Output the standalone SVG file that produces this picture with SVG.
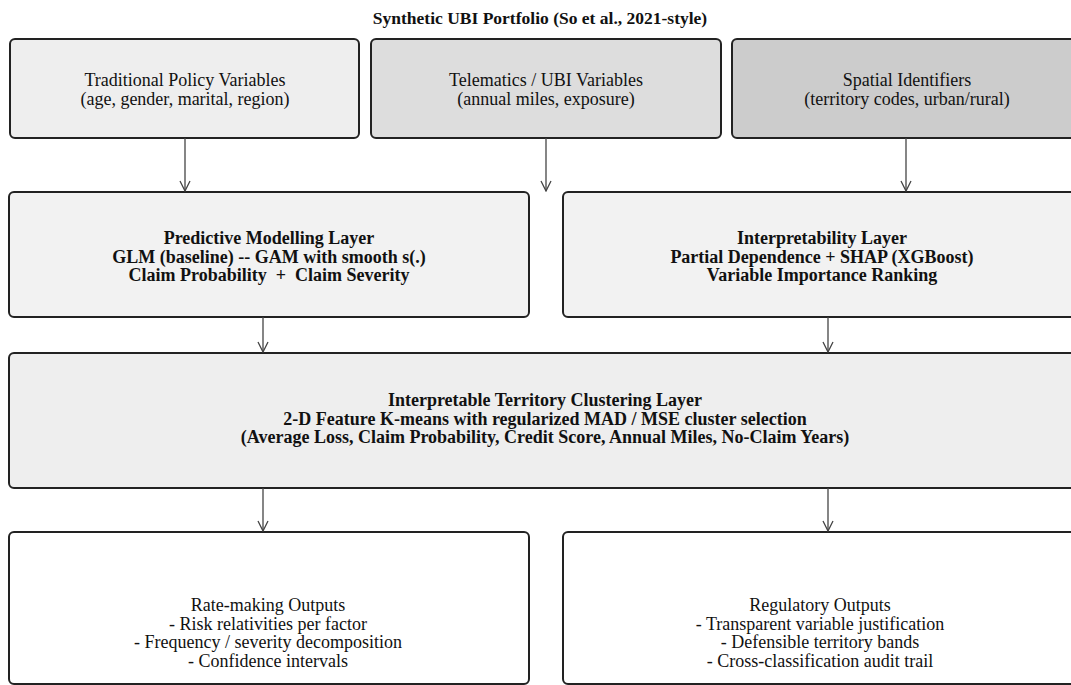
<svg xmlns="http://www.w3.org/2000/svg" width="1071" height="685" viewBox="0 0 1071 685">
<style>
.box{stroke:#222;stroke-width:2}
.t{font-family:"Liberation Serif","Times New Roman",serif;font-size:18px;fill:#111;text-anchor:middle}
.b{font-weight:bold}
.c{stroke:#444;stroke-width:1.3;fill:none}
</style>
<defs>
<marker id="ah" viewBox="0 0 12 12" refX="11" refY="6" markerWidth="12" markerHeight="12" markerUnits="userSpaceOnUse" orient="auto">
<path d="M1,1 L11,6 L1,11" fill="none" stroke="#444" stroke-width="1.3"/>
</marker>
</defs>
<rect width="1071" height="685" fill="#fff"/>
<text class="t b" x="540" y="24" style="font-size:17.5px">Synthetic UBI Portfolio (So et al., 2021-style)</text>

<g id="traditional">
<rect class="box" x="10" y="39" width="349" height="99" rx="5" fill="#eeeeee"/>
<text class="t" x="185" y="86">Traditional Policy Variables</text>
<text class="t" x="185" y="104.5">(age, gender, marital, region)</text>
</g>
<g id="telematics">
<rect class="box" x="371" y="39" width="350" height="99" rx="5" fill="#dddddd"/>
<text class="t" x="546" y="86">Telematics / UBI Variables</text>
<text class="t" x="546" y="104.5">(annual miles, exposure)</text>
</g>
<g id="spatial">
<rect class="box" x="732" y="39" width="350" height="99" rx="5" fill="#cccccc"/>
<text class="t" x="907" y="86">Spatial Identifiers</text>
<text class="t" x="907" y="104.5">(territory codes, urban/rural)</text>
</g>

<g id="predictive">
<rect class="box" x="9" y="192" width="520" height="125" rx="5" fill="#f2f2f2"/>
<text class="t b" x="269" y="244">Predictive Modelling Layer</text>
<text class="t b" x="269" y="262.5">GLM (baseline) -- GAM with smooth s(.)</text>
<text class="t b" x="269" y="281" xml:space="preserve">Claim Probability  +  Claim Severity</text>
</g>
<g id="interpretability">
<rect class="box" x="563" y="192" width="518" height="125" rx="5" fill="#f2f2f2"/>
<text class="t b" x="822" y="244">Interpretability Layer</text>
<text class="t b" x="822" y="262.5">Partial Dependence + SHAP (XGBoost)</text>
<text class="t b" x="822" y="281">Variable Importance Ranking</text>
</g>

<g id="clustering">
<rect class="box" x="9" y="353" width="1072" height="135" rx="5" fill="#eeeeee"/>
<text class="t b" x="545" y="406">Interpretable Territory Clustering Layer</text>
<text class="t b" x="545" y="424.5">2-D Feature K-means with regularized MAD / MSE cluster selection</text>
<text class="t b" x="545" y="443">(Average Loss, Claim Probability, Credit Score, Annual Miles, No-Claim Years)</text>
</g>

<g id="ratemaking">
<rect class="box" x="9" y="532" width="520" height="152" rx="5" fill="#ffffff"/>
<text class="t" x="268" y="611">Rate-making Outputs</text>
<text class="t" x="268" y="629.5">- Risk relativities per factor</text>
<text class="t" x="268" y="648">- Frequency / severity decomposition</text>
<text class="t" x="268" y="666.5">- Confidence intervals</text>
</g>
<g id="regulatory">
<rect class="box" x="563" y="532" width="518" height="152" rx="5" fill="#ffffff"/>
<text class="t" x="820" y="611">Regulatory Outputs</text>
<text class="t" x="820" y="629.5">- Transparent variable justification</text>
<text class="t" x="820" y="648">- Defensible territory bands</text>
<text class="t" x="820" y="666.5">- Cross-classification audit trail</text>
</g>

<g id="connectors">
<line class="c" x1="185" y1="138" x2="185" y2="191" marker-end="url(#ah)"/>
<line class="c" x1="546" y1="138" x2="546" y2="191" marker-end="url(#ah)"/>
<line class="c" x1="906" y1="138" x2="906" y2="191" marker-end="url(#ah)"/>
<line class="c" x1="263" y1="317" x2="263" y2="352" marker-end="url(#ah)"/>
<line class="c" x1="828" y1="317" x2="828" y2="352" marker-end="url(#ah)"/>
<line class="c" x1="263" y1="488" x2="263" y2="531" marker-end="url(#ah)"/>
<line class="c" x1="828" y1="488" x2="828" y2="531" marker-end="url(#ah)"/>
</g>
</svg>
